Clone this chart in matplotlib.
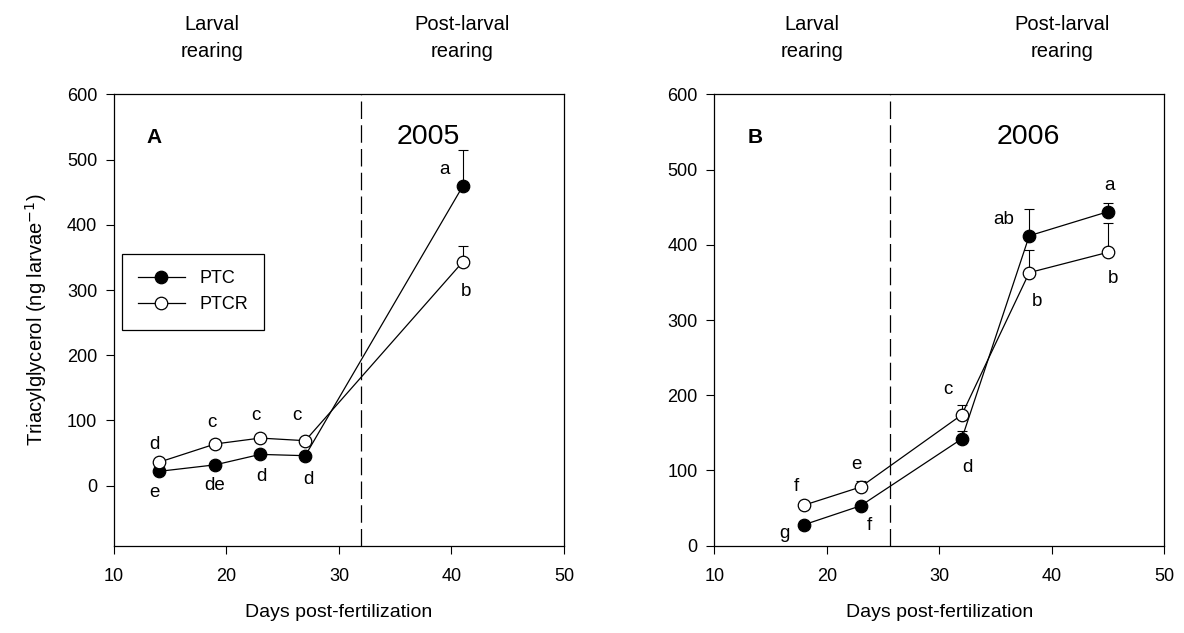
import matplotlib
matplotlib.use("Agg")
import matplotlib.pyplot as plt

plt.rcParams['font.family'] = ['Liberation Sans', 'DejaVu Sans']

# 2005 trial
days_a = [14, 19, 23, 27, 41]
ptc_a = [22, 32, 48, 46, 459]
ptc_a_se = [3, 3, 4, 4, 55]
ptcr_a = [36, 64, 73, 69, 343]
ptcr_a_se = [3, 3, 3, 3, 25]
letters_ptc_a = ["e", "de", "d", "d", "a"]
letters_ptcr_a = ["d", "c", "c", "c", "b"]
pos_ptc_a = [(13.6, -11), (18.9, 1), (23.1, 14), (27.3, 10), (39.4, 485)]
pos_ptcr_a = [(13.6, 63), (18.7, 97), (22.6, 107), (26.3, 107), (41.3, 297)]
switch_a = 32

# 2006 trial
days_b = [18, 23, 32, 38, 45]
ptc_b = [28, 53, 142, 412, 444]
ptc_b_se = [3, 3, 11, 36, 11]
ptcr_b = [54, 78, 174, 363, 390]
ptcr_b_se = [3, 8, 13, 30, 39]
letters_ptc_b = ["g", "f", "d", "ab", "a"]
letters_ptcr_b = ["f", "e", "c", "b", "b"]
pos_ptc_b = [(16.2, 16), (23.8, 27), (32.5, 104), (35.7, 433), (45.1, 479)]
pos_ptcr_b = [(17.3, 79), (22.6, 108), (30.8, 208), (38.7, 324), (45.4, 355)]
switch_b = 25.6

fig = plt.figure(figsize=(11.84, 6.33), dpi=100)
ax_a = fig.add_axes([0.0963, 0.1379, 0.380, 0.7131])
ax_b = fig.add_axes([0.6033, 0.1379, 0.380, 0.7131])


def draw_panel(ax, days, ptc, ptc_se, ptcr, ptcr_se, lt_ptc, pos_ptc, lt_ptcr, pos_ptcr,
               switch, tag, year, ymin):
    # one-sided (upper) error bars, drawn behind the markers
    ax.errorbar(days, ptc, yerr=[[0] * len(ptc), ptc_se], fmt='none', ecolor='black',
                elinewidth=0.8, capsize=3.6, capthick=0.8, zorder=1)
    ax.errorbar(days, ptcr, yerr=[[0] * len(ptcr), ptcr_se], fmt='none', ecolor='black',
                elinewidth=0.8, capsize=3.6, capthick=0.8, zorder=1)
    ax.plot(days, ptc, '-o', color='black', lw=0.9, ms=9, mfc='black', mec='black',
            mew=0.9, label='PTC', zorder=3)
    ax.plot(days, ptcr, '-o', color='black', lw=0.9, ms=9, mfc='white', mec='black',
            mew=0.9, label='PTCR', zorder=3)
    for t, (x, y) in zip(lt_ptc, pos_ptc):
        ax.text(x, y, t, ha='center', va='center', fontsize=13.5)
    for t, (x, y) in zip(lt_ptcr, pos_ptcr):
        ax.text(x, y, t, ha='center', va='center', fontsize=13.5)

    ax.axvline(switch, color='black', lw=0.9, ls=(0, (14, 5)), zorder=0)
    ax.set_xlim(10, 50)
    ax.set_ylim(ymin, 600)
    ax.set_xticks([10, 20, 30, 40, 50])
    ax.set_yticks([0, 100, 200, 300, 400, 500, 600])
    ax.tick_params(direction='out', length=6, width=0.8, labelsize=13, pad=6)
    ax.tick_params(axis='x', pad=10)
    for s in ax.spines.values():
        s.set_linewidth(0.9)
    ax.set_xlabel('Days post-fertilization', fontsize=14, labelpad=14)

    ax.text(13.6, 0.905, tag, transform=ax.get_xaxis_transform(), fontsize=15,
            fontweight='bold', ha='center', va='center')
    ax.text(37.9, 0.905, year, transform=ax.get_xaxis_transform(), fontsize=20.5,
            ha='center', va='center')
    ax.text(18.7, 1.125, 'Larval\nrearing', transform=ax.get_xaxis_transform(),
            fontsize=14.5, ha='center', va='center', linespacing=1.55)
    ax.text(40.9, 1.125, 'Post-larval\nrearing', transform=ax.get_xaxis_transform(),
            fontsize=14.5, ha='center', va='center', linespacing=1.55)


draw_panel(ax_a, days_a, ptc_a, ptc_a_se, ptcr_a, ptcr_a_se, letters_ptc_a, pos_ptc_a,
           letters_ptcr_a, pos_ptcr_a, switch_a, 'A', '2005', -92)
draw_panel(ax_b, days_b, ptc_b, ptc_b_se, ptcr_b, ptcr_b_se, letters_ptc_b, pos_ptc_b,
           letters_ptcr_b, pos_ptcr_b, switch_b, 'B', '2006', 0)

ax_a.set_ylabel('Triacylglycerol (ng larvae$^{-1}$)', fontsize=14.5, labelpad=13)

leg = ax_a.legend(loc='upper left', bbox_to_anchor=(0.017, 0.646), borderaxespad=0,
                  fancybox=False, edgecolor='black', fontsize=13, handlelength=2.6,
                  borderpad=0.9, labelspacing=0.5, framealpha=1)
leg.get_frame().set_linewidth(0.9)

fig.savefig('out.png', dpi=100)
